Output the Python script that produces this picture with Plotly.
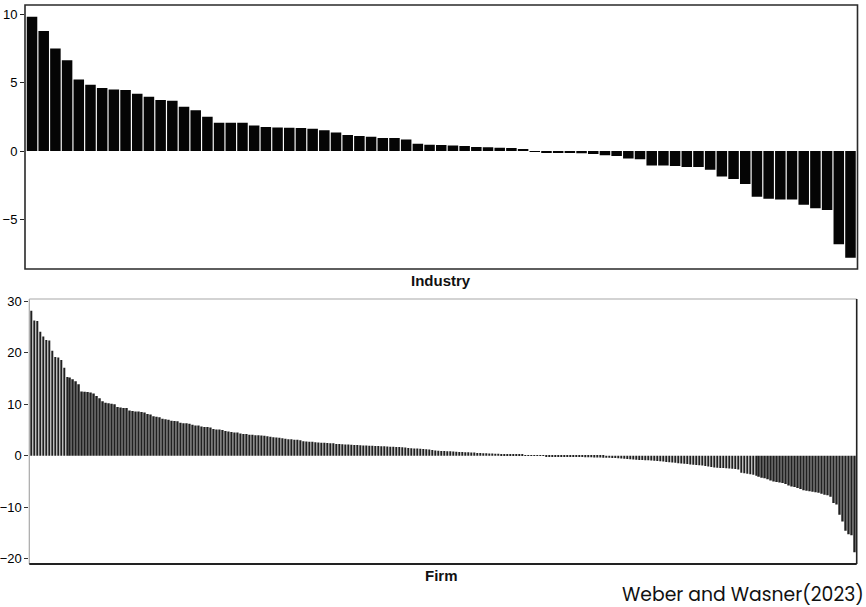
import plotly.graph_objects as go

# ---------------- data ----------------
industry_values = [
    9.8, 8.76, 7.49, 6.62, 5.23, 4.84, 4.6, 4.5, 4.45, 4.18,
    3.97, 3.72, 3.67, 3.24, 2.97, 2.5, 2.07, 2.07, 2.07, 1.87,
    1.75, 1.72, 1.70, 1.69, 1.63, 1.51, 1.36, 1.17, 1.09, 1.05,
    0.95, 0.95, 0.85, 0.54, 0.46, 0.44, 0.41, 0.36, 0.29, 0.27,
    0.24, 0.22, 0.15, -0.05, -0.08, -0.1, -0.12, -0.17, -0.22, -0.3,
    -0.36, -0.55, -0.6, -1.05, -1.05, -1.09, -1.17, -1.17, -1.36, -1.85,
    -2.04, -2.41, -3.33, -3.48, -3.53, -3.53, -3.92, -4.18, -4.31, -6.81,
    -7.79,
]

firm_values = [
    28.2, 26.3, 26.2, 24.1, 23.2, 22.5, 22.4, 20.4, 19.2, 19.1,
    18.6, 17.1, 15.3, 15.2, 14.9, 14.5, 13.9, 12.5, 12.45, 12.4,
    12.3, 12.1, 11.6, 11.2, 10.6, 10.3, 10.2, 10.1, 10.0, 9.5,
    9.4, 9.3, 9.3, 8.8, 8.7, 8.6, 8.6, 8.5, 8.4, 8.1,
    8.0, 7.7, 7.6, 7.5, 7.2, 7.1, 7.0, 6.8, 6.75, 6.7,
    6.4, 6.3, 6.3, 6.2, 6.0, 5.9, 5.9, 5.7, 5.6, 5.6,
    5.5, 5.2, 5.1, 5.1, 5.0, 4.8, 4.7, 4.6, 4.5, 4.5,
    4.3, 4.2, 4.2, 4.1, 4.1, 4.0, 4.0, 3.95, 3.9, 3.8,
    3.7, 3.6, 3.55, 3.5, 3.4, 3.3, 3.2, 3.2, 3.1, 3.1,
    3.0, 2.8, 2.75, 2.7, 2.7, 2.6, 2.55, 2.5, 2.5, 2.45,
    2.4, 2.4, 2.3, 2.3, 2.25, 2.2, 2.2, 2.15, 2.1, 2.1,
    2.05, 2.0, 2.0, 1.95, 1.95, 1.9, 1.9, 1.85, 1.85, 1.8,
    1.75, 1.75, 1.7, 1.7, 1.65, 1.6, 1.5, 1.45, 1.4, 1.4,
    1.35, 1.3, 1.25, 1.2, 1.1, 1.0, 0.95, 0.9, 0.9, 0.85,
    0.85, 0.8, 0.75, 0.7, 0.7, 0.65, 0.65, 0.6, 0.6, 0.55,
    0.55, 0.5, 0.5, 0.45, 0.45, 0.4, 0.4, 0.35, 0.35, 0.3,
    0.27, 0.25, 0.22, 0.2, 0.15, 0.12, 0.08, 0.05, 0.03, 0.01,
    -0.02, -0.04, -0.06, -0.08, -0.1, -0.12, -0.14, -0.16, -0.18, -0.2,
    -0.21, -0.22, -0.24, -0.25, -0.27, -0.28, -0.3, -0.31, -0.33, -0.35,
    -0.37, -0.38, -0.4, -0.42, -0.44, -0.46, -0.5, -0.55, -0.6, -0.65,
    -0.7, -0.75, -0.8, -0.82, -0.85, -0.88, -0.9, -0.95, -1.0, -1.05,
    -1.1, -1.15, -1.2, -1.25, -1.3, -1.35, -1.45, -1.5, -1.55, -1.6,
    -1.7, -1.75, -1.8, -1.85, -1.9, -2.0, -2.1, -2.2, -2.3, -2.35,
    -2.4, -2.4, -2.45, -2.5, -2.55, -2.6, -2.7, -3.3, -3.4, -3.5,
    -3.6, -3.7, -3.9, -4.1, -4.3, -4.4, -4.6, -4.8, -5.0, -5.1,
    -5.2, -5.3, -5.5, -5.8, -6.0, -6.1, -6.3, -6.5, -6.7, -6.8,
    -6.9, -7.0, -7.1, -7.2, -7.4, -7.6, -7.7, -8.0, -9.2, -9.5,
    -11.5, -12.8, -14.6, -15.3, -15.5, -18.8,
]

industry_ticks = [-5, 0, 5, 10]
firm_ticks = [-20, -10, 0, 10, 20, 30]
industry_title = "Industry"
firm_title = "Firm"
caption = "Weber and Wasner(2023)"

industry_x = list(range(1, len(industry_values) + 1))
firm_x = list(range(1, len(firm_values) + 1))

# ---------------- figure ----------------
W, H = 866, 607
fig = go.Figure()

fig.add_trace(go.Bar(
    x=industry_x, y=industry_values, width=0.9,
    marker=dict(color="#050505", line=dict(width=0)),
    xaxis="x", yaxis="y", showlegend=False, hoverinfo="y",
))
fig.add_trace(go.Bar(
    x=firm_x, y=firm_values, width=0.5,
    marker=dict(color="#202020", line=dict(width=0)),
    xaxis="x2", yaxis="y2", showlegend=False, hoverinfo="y",
))

tick_font = dict(family="Liberation Sans, Arial, sans-serif", size=13, color="#000000")

# pixel-based domains
top_x = [25 / W, 857.5 / W]
top_y = [1 - 269 / H, 1 - 5 / H]
bot_x = [29.3 / W, 856.7 / W]
bot_y = [1 - 564 / H, 1 - 299 / H]

fig.update_layout(
    width=W, height=H,
    margin=dict(l=0, r=0, t=0, b=0),
    paper_bgcolor="white", plot_bgcolor="white",
    bargap=0.1,  # non-zero so plotly does not pixel-round the thin bars
    xaxis=dict(domain=top_x, range=[0.4, len(industry_values) + 0.6],
               showticklabels=False, ticks="", showgrid=False, zeroline=False,
               showline=False, anchor="y"),
    yaxis=dict(domain=top_y, range=[-8.61, 10.66], tickvals=industry_ticks,
               ticks="outside", ticklen=4, tickcolor="#222", tickwidth=1,
               tickfont=tick_font, showgrid=False, zeroline=False,
               showline=False, anchor="x", automargin=False),
    xaxis2=dict(domain=bot_x, range=[0.4, len(firm_values) + 0.6],
                showticklabels=False, ticks="", showgrid=False, zeroline=False,
                showline=False, anchor="y2"),
    yaxis2=dict(domain=bot_y, range=[-21.07, 30.49], tickvals=firm_ticks,
                ticks="outside", ticklen=4, tickcolor="#333", tickwidth=1,
                tickfont=tick_font, showgrid=False, zeroline=False,
                showline=False, anchor="x2", automargin=False),
)

# panel borders
shapes = []
shapes.append(dict(type="rect", xref="x domain", yref="y domain",
                   x0=0, x1=1, y0=0, y1=1,
                   line=dict(color="#2a2a2a", width=1.6), layer="above"))
shapes.append(dict(type="line", xref="x2 domain", yref="y2 domain",
                   x0=0, x1=1, y0=1, y1=1, line=dict(color="#a8a8a8", width=1.2)))
shapes.append(dict(type="line", xref="x2 domain", yref="y2 domain",
                   x0=0, x1=0, y0=0, y1=1, line=dict(color="#a8a8a8", width=1.2)))
shapes.append(dict(type="line", xref="x2 domain", yref="y2 domain",
                   x0=0, x1=1, y0=0, y1=0, line=dict(color="#222222", width=1.8)))
shapes.append(dict(type="line", xref="x2 domain", yref="y2 domain",
                   x0=1, x1=1, y0=0, y1=1, line=dict(color="#222222", width=1.6)))
fig.update_layout(shapes=shapes)

title_font = dict(family="Liberation Sans, Arial, sans-serif", size=15, color="#111111")
fig.add_annotation(text="<b>" + industry_title + "</b>", xref="paper", yref="paper",
                   x=441 / W, y=1 - 280 / H, xanchor="center", yanchor="middle",
                   showarrow=False, font=title_font)
fig.add_annotation(text="<b>" + firm_title + "</b>", xref="paper", yref="paper",
                   x=441 / W, y=1 - 575 / H, xanchor="center", yanchor="middle",
                   showarrow=False, font=title_font)
fig.add_annotation(text=caption, xref="paper", yref="paper",
                   x=866 / W, y=1 - 594 / H, xanchor="right", yanchor="middle",
                   showarrow=False,
                   font=dict(family="Poppins, Inter, Lato, sans-serif", size=18.8, color="#111111"))

fig.write_html(
    "out.html",
    config={"displayModeBar": False},
    post_script="document.body.style.margin='0';document.body.style.overflow='hidden';",
)
